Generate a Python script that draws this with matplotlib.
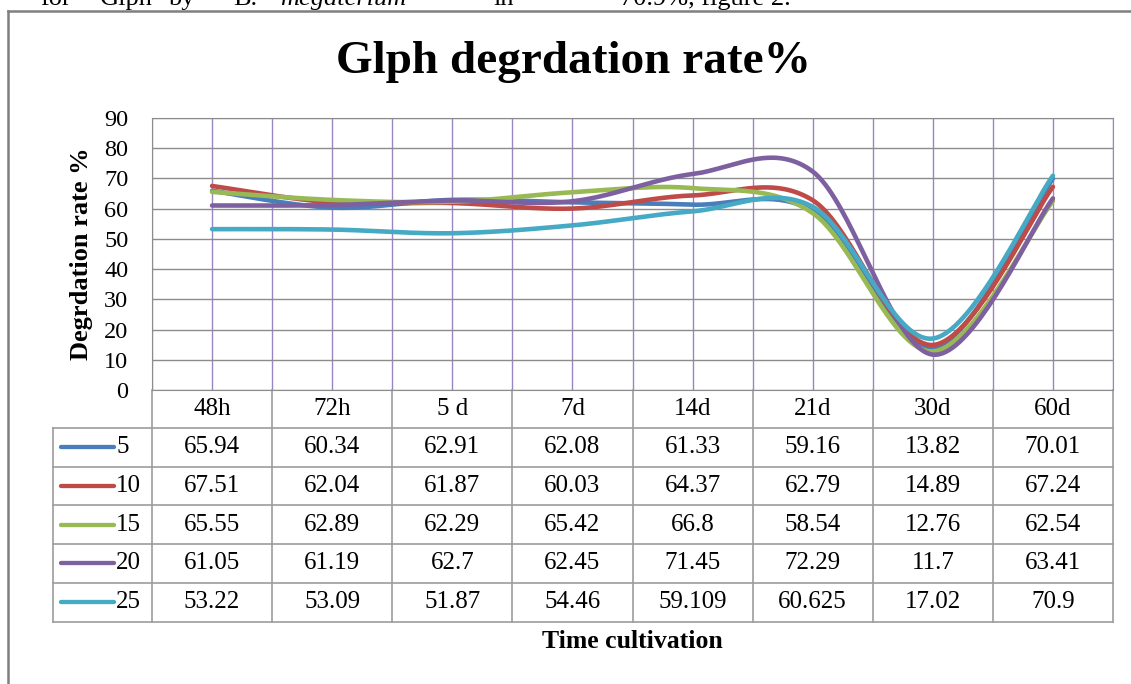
import numpy as np
import matplotlib.pyplot as plt
from matplotlib.lines import Line2D
from matplotlib.transforms import blended_transform_factory

plt.rcParams['font.family'] = ['Liberation Serif', 'DejaVu Serif']

times = ['48h', '72h', '5 d', '7d', '14d', '21d', '30d', '60d']
concentrations = ['5', '10', '15', '20', '25']
rate_5 = [65.94, 60.34, 62.91, 62.08, 61.33, 59.16, 13.82, 70.01]
rate_10 = [67.51, 62.04, 61.87, 60.03, 64.37, 62.79, 14.89, 67.24]
rate_15 = [65.55, 62.89, 62.29, 65.42, 66.8, 58.54, 12.76, 62.54]
rate_20 = [61.05, 61.19, 62.7, 62.45, 71.45, 72.29, 11.7, 63.41]
rate_25 = [53.22, 53.09, 51.87, 54.46, 59.109, 60.625, 17.02, 70.9]
colors = ['#4A7EBB', '#BE4B48', '#98B954', '#7D60A0', '#46AAC5']

W, H = 1131, 684
fig = plt.figure(figsize=(W / 100, H / 100), dpi=100)
fig.patch.set_facecolor('white')

# plot area in pixels: x 152..1113, y 118..390
x0, x1, y0, y1 = 152, 1113, 118, 390
ax = fig.add_axes([x0 / W, 1 - y1 / H, (x1 - x0) / W, (y1 - y0) / H])


def smooth(ys, n=40):
    # Excel-like smoothed line (Catmull-Rom as cubic Bezier)
    p = np.column_stack([np.arange(len(ys), dtype=float), np.asarray(ys, float)])
    pts = []
    for i in range(len(p) - 1):
        pm = p[i - 1] if i > 0 else p[i]
        pp = p[i + 2] if i + 2 < len(p) else p[i + 1]
        b0, b3 = p[i], p[i + 1]
        b1 = b0 + (b3 - pm) / 6
        b2 = b3 - (pp - b0) / 6
        t = np.linspace(0, 1, n)[:, None]
        seg = ((1 - t) ** 3) * b0 + 3 * ((1 - t) ** 2) * t * b1 + 3 * (1 - t) * t ** 2 * b2 + t ** 3 * b3
        pts.append(seg if i == 0 else seg[1:])
    pts = np.vstack(pts)
    return pts[:, 0], pts[:, 1]


series = [rate_5, rate_10, rate_15, rate_20, rate_25]
for vals, c in zip(series, colors):
    sx, sy = smooth(vals)
    ax.plot(sx, sy, color=c, lw=3.3, solid_capstyle='round', zorder=3)

ax.set_xlim(-0.5, len(times) - 0.5)
ax.set_ylim(0, 90)
ax.set_yticks(range(0, 91, 10))
ax.set_xticks(np.arange(-0.5, len(times), 0.5))
ax.grid(axis='y', color='#8C8C8C', lw=1)
ax.grid(axis='x', color='#9A85C4', lw=1)
ax.set_axisbelow(True)
ax.tick_params(axis='x', length=0, labelbottom=False)
ax.tick_params(axis='y', length=0, pad=17, labelsize=17.5)
for s in ['left', 'top', 'bottom']:
    ax.spines[s].set_color('#8C8C8C')
ax.spines['right'].set_color('#9A85C4')

ax.set_ylabel('Degrdation rate %', fontsize=19, fontweight='bold', labelpad=8)

# data table below the plot
tr = blended_transform_factory(ax.transData, ax.transAxes)
tra = ax.transAxes
ph = y1 - y0


def fy(py):
    return (y1 - py) / ph


def fx(px):
    return (px - x0) / (x1 - x0)


grid_c = '#9C9C9C'
head_top, head_bot = 390, 428
row_h = 38.7
rows_y = [head_bot + k * row_h for k in range(len(concentrations) + 1)]

# header row
for i, t in enumerate(times):
    ax.text(i, fy((head_top + head_bot) / 2), t, transform=tr, ha='center', va='center',
            fontsize=18, clip_on=False)
for b in np.arange(-0.5, len(times)):
    ax.add_line(Line2D([b, b], [fy(head_top), fy(rows_y[-1])], transform=tr, color=grid_c,
                       lw=1.2, clip_on=False))
# horizontal table lines
for yy in rows_y:
    ax.add_line(Line2D([fx(53), 1], [fy(yy), fy(yy)], transform=tra, color=grid_c,
                       lw=1.2, clip_on=False))
ax.add_line(Line2D([fx(53), fx(53)], [fy(rows_y[0]), fy(rows_y[-1])], transform=tra,
                   color=grid_c, lw=1.2, clip_on=False))

for r, (name, vals, c) in enumerate(zip(concentrations, series, colors)):
    yc = fy(rows_y[r] + row_h / 2)
    ax.add_line(Line2D([fx(61), fx(114)], [yc, yc], transform=tra, color=c, lw=3.1,
                       solid_capstyle='round', clip_on=False))
    ax.text(fx(116), yc, name, transform=tra, ha='left', va='center', fontsize=18,
            clip_on=False)
    for i, v in enumerate(vals):
        ax.text(i, yc, str(v), transform=tr, ha='center', va='center', fontsize=18,
                clip_on=False)

ax.text(0.5, fy(641), 'Time cultivation', transform=tra, ha='center', va='center',
        fontsize=18.5, fontweight='bold', clip_on=False)

fig.text(573 / W, 1 - 62 / H, 'Glph degrdation rate%', ha='center', va='center',
         fontsize=34, fontweight='bold')

# outer chart border
fig.add_artist(Line2D([8 / W, 8 / W], [0, 1 - 11 / H], color='#7F7F7F', lw=1.8))
fig.add_artist(Line2D([8 / W, 1], [1 - 11 / H, 1 - 11 / H], color='#7F7F7F', lw=1.8))

# fragment of document text above the chart (cut by the page edge)
words = [(40, 'for', 'normal'), (100, 'Glph', 'normal'), (168, 'by', 'normal'),
         (233, 'B.', 'normal'), (280, 'megaterium', 'italic'), (493, 'in', 'normal'),
         (620, '70.9%, figure 2.', 'normal')]
for px, w, st in words:
    fig.text(px / W, 1 - 5 / H, w, ha='left', va='baseline', fontsize=19, style=st)

fig.savefig('out.png', dpi=100)
